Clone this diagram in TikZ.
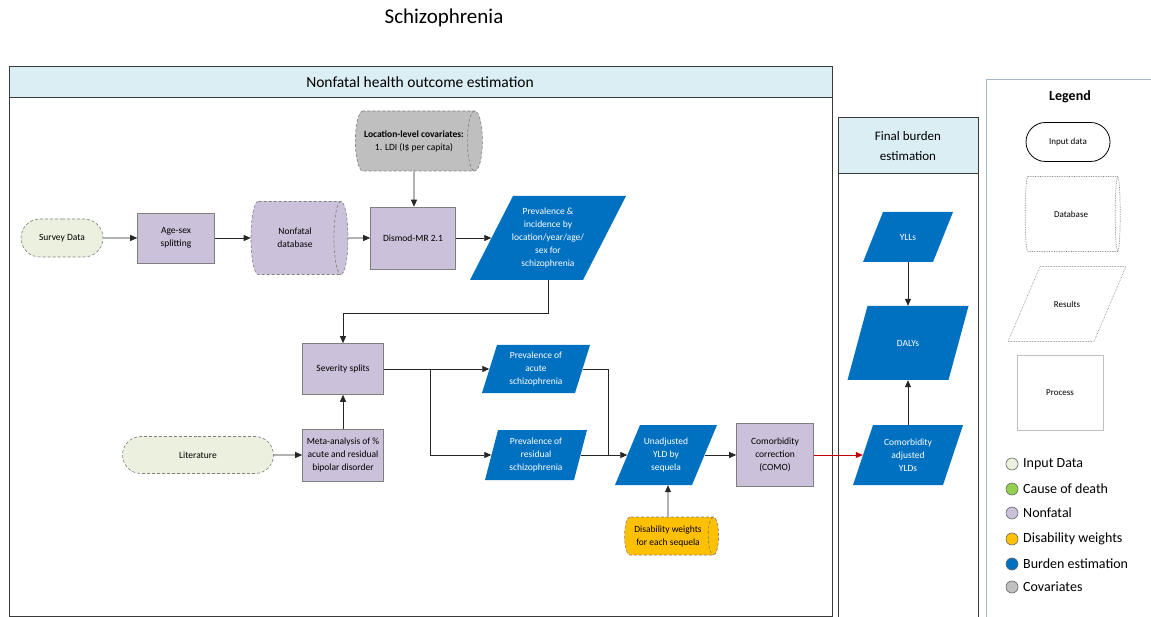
\documentclass[tikz,border=0pt]{standalone}
\usepackage{fontspec}
\setmainfont{Carlito}
\usetikzlibrary{arrows.meta,shapes.geometric,shapes.misc}

\definecolor{inputfill}{HTML}{EBF1DE}
\definecolor{nonfatal}{HTML}{CCC1DA}
\definecolor{covar}{HTML}{BFBFBF}
\definecolor{burden}{HTML}{0070C0}
\definecolor{dwfill}{HTML}{FFC000}
\definecolor{header}{HTML}{DAEEF3}
\definecolor{codgreen}{HTML}{92D050}
\definecolor{edge}{HTML}{7F7F7F}
\definecolor{panelline}{HTML}{3A3A3A}
\definecolor{legendline}{HTML}{A5B6C6}
\definecolor{comoarrow}{HTML}{C00000}

\tikzset{
  base/.style={font=\fontsize{9.5}{13}\selectfont, align=center, inner sep=1pt},
  inputbox/.style={base, rounded rectangle, fill=inputfill, draw=edge, densely dashed, line width=0.6pt},
  procbox/.style={base, rectangle, fill=nonfatal, draw=edge, line width=0.6pt},
  % horizontal cylinder: minimum height runs along the axis, minimum width across it
  dbbox/.style={base, cylinder, aspect=0.65, fill=nonfatal, draw=edge, densely dashed, line width=0.6pt},
  bluepara/.style={fill=burden},
  bluepara text/.style={text=white},
  legpara/.style={draw=edge, densely dotted, line width=0.6pt},
  legpara text/.style={text=black, font=\fontsize{9}{11}\selectfont},
  legshape/.style={font=\fontsize{9}{11}\selectfont, align=center, inner sep=1pt},
  arr/.style={draw=black!85, line width=0.7pt, -{Triangle[length=7pt,width=6pt]}},
  line/.style={draw=black!85, line width=0.7pt},
  panel/.style={draw=panelline, line width=1pt},
  headtext/.style={font=\fontsize{15.5}{19}\selectfont, align=center},
  dot/.style={circle, draw=black!60, line width=0.6pt, minimum size=12pt, inner sep=0pt},
  legtext/.style={anchor=west, font=\fontsize{14}{16}\selectfont, inner sep=0pt},
}

% parallelogram "result" shape: a slanted outline plus a named rectangle
% whose left/right sides pass through the middles of the slanted sides
% #1 style, #2 name, #3 x, #4 y, #5 total width, #6 height, #7 slant offset, #8 text
\newcommand\paranode[8]{%
  \path[#1] ({#3-#5/2},{#4+#6/2}) -- ({#3-#5/2+#7},{#4-#6/2})
    -- ({#3+#5/2},{#4-#6/2}) -- ({#3+#5/2-#7},{#4+#6/2}) -- cycle;
  \node[base, #1 text, minimum width={#5-#7}, minimum height=#6] (#2) at (#3,#4) {#8};%
}

\begin{document}
\begin{tikzpicture}[x=1pt, y=-1pt]
\useasboundingbox (0,0) rectangle (1151,617);

% title
\node[font=\fontsize{21}{24}\selectfont] (title) at (444,18) {Schizophrenia};

% panels
\fill[header] (9,67) rectangle (832,98);
\draw[panel] (9,67) rectangle (832,616);
\draw[panel] (9,98) -- (832,98);
\node[headtext] (nfhead) at (420,82) {Nonfatal health outcome estimation};

\fill[header] (838,118) rectangle (978,174);
\draw[panel] (838,617) -- (838,118) -- (978,118) -- (978,617);
\draw[panel] (838,174) -- (978,174);
\node[headtext, font=\fontsize{13}{19.5}\selectfont] (fbhead) at (908,146) {Final burden\\estimation};

\draw[draw=legendline, line width=1pt] (1151,80) -- (986,80) -- (986,617);

% nonfatal pipeline
\node[inputbox, minimum width=84, minimum height=38] (survey) at (62,238) {Survey Data};
\node[procbox, minimum width=77, minimum height=50] (agesex) at (176,238) {Age-sex\\splitting};
\node[dbbox, minimum height=97, minimum width=73] (nfdb) at (295,238) {Nonfatal\\database};
\node[procbox, minimum width=85, minimum height=62] (dismod) at (413,238) {Dismod-MR 2.1};
\node[dbbox, fill=covar, minimum height=127, minimum width=60] (cov) at (414,141)
  {\textbf{Location-level covariates:}\\1. LDI (I\$ per capita)};
\paranode{bluepara}{prev}{548}{238}{156}{84}{43}
  {Prevalence \&\\incidence by\\location/year/age/\\sex for\\schizophrenia}

\node[procbox, minimum width=81, minimum height=51] (sev) at (343,369) {Severity splits};
\node[procbox, minimum width=81, minimum height=52] (meta) at (343,455)
  {Meta-analysis of \%\\acute and residual\\bipolar disorder};
\node[inputbox, minimum width=153, minimum height=37] (lit) at (198,455) {Literature};

\paranode{bluepara}{acute}{536}{369}{108}{48}{15}{Prevalence of\\acute\\schizophrenia}
\paranode{bluepara}{resid}{536}{455}{102}{50}{13}{Prevalence of\\residual\\schizophrenia}
\paranode{bluepara}{unadj}{666}{455}{102}{60}{25}{Unadjusted\\YLD by\\sequela}
\node[procbox, minimum width=77, minimum height=63] (como) at (775,455)
  {Comorbidity\\correction\\(COMO)};
\node[dbbox, fill=dwfill, aspect=0.45, minimum height=94, minimum width=38] (dw) at (668,536)
  {Disability weights\\for each sequela};

% final burden
\paranode{bluepara}{adj}{908}{455}{110}{60}{20}{Comorbidity\\adjusted\\YLDs}
\paranode{bluepara}{ylls}{908}{237}{90}{50}{20}{YLLs}
\paranode{bluepara}{dalys}{908}{343}{121}{74}{20}{DALYs}

% connectors
\draw[arr] (survey) -- (agesex);
\draw[arr] (agesex) -- (nfdb);
\draw[arr] (nfdb) -- (dismod);
\draw[arr] (dismod) -- (prev);
\draw[arr] (cov) -- (cov |- dismod.north);
\draw[arr] (prev.south) -- ++(0,33) -| (sev.north);
\draw[arr] (lit) -- (meta);
\draw[arr] (meta) -- (sev);
\draw[arr] (sev) -- (acute);
\coordinate (split) at (430,369);
\draw[arr] (split) |- (resid);
\coordinate (merge) at (608,455);
\draw[line] (acute) -| (merge);
\draw[arr] (resid) -- (unadj);
\draw[arr] (unadj) -- (como);
\draw[arr] (dw) -- (dw |- unadj.south);
\draw[arr, draw=comoarrow] (como) -- (adj);
\draw[arr] (adj) -- (dalys);
\draw[arr] (ylls) -- (dalys);

% legend
\node[font=\bfseries\fontsize{14}{16}\selectfont] (legtitle) at (1070,97) {Legend};
\node[legshape, rounded rectangle, draw=black, line width=0.8pt, minimum width=86, minimum height=39] (legin) at (1068,142) {Input data};
\node[legshape, cylinder, aspect=0.6, draw=edge, densely dotted, line width=0.7pt, minimum height=95, minimum width=75] (legdb) at (1071,214) {Database};
\paranode{legpara}{legres}{1067}{304}{118}{75}{32}{Results}
\node[legshape, draw=black!25, line width=0.6pt, minimum width=86, minimum height=75] (legproc) at (1060,393) {Process};

\node[dot, fill=inputfill] (k1) at (1012,464) {};
\node[legtext] (t1) at (1023,464) {Input Data};
\node[dot, fill=codgreen] (k2) at (1012,489) {};
\node[legtext] (t2) at (1023,489) {Cause of death};
\node[dot, fill=nonfatal] (k3) at (1012,513) {};
\node[legtext] (t3) at (1023,513) {Nonfatal};
\node[dot, fill=dwfill] (k4) at (1012,539) {};
\node[legtext] (t4) at (1023,539) {Disability weights};
\node[dot, fill=burden] (k5) at (1012,564) {};
\node[legtext] (t5) at (1023,564) {Burden estimation};
\node[dot, fill=covar] (k6) at (1012,587) {};
\node[legtext] (t6) at (1023,587) {Covariates};
\end{tikzpicture}
\end{document}
